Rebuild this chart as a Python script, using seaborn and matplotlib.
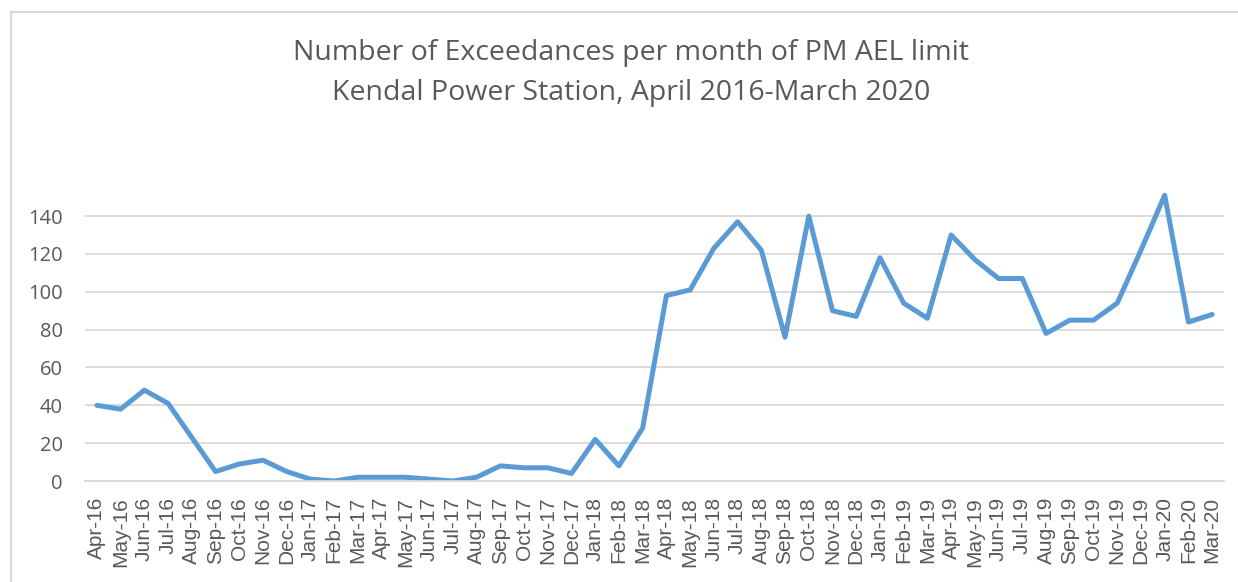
import numpy as np
import pandas as pd
import matplotlib
matplotlib.use("Agg")
import matplotlib.pyplot as plt
import seaborn as sns
from matplotlib.lines import Line2D

# monthly exceedances, Apr-16 .. Mar-20
months = ["Apr-16", "May-16", "Jun-16", "Jul-16", "Aug-16", "Sep-16", "Oct-16", "Nov-16",
          "Dec-16", "Jan-17", "Feb-17", "Mar-17", "Apr-17", "May-17", "Jun-17", "Jul-17",
          "Aug-17", "Sep-17", "Oct-17", "Nov-17", "Dec-17", "Jan-18", "Feb-18", "Mar-18",
          "Apr-18", "May-18", "Jun-18", "Jul-18", "Aug-18", "Sep-18", "Oct-18", "Nov-18",
          "Dec-18", "Jan-19", "Feb-19", "Mar-19", "Apr-19", "May-19", "Jun-19", "Jul-19",
          "Aug-19", "Sep-19", "Oct-19", "Nov-19", "Dec-19", "Jan-20", "Feb-20", "Mar-20"]
exceedances = [40, 38, 48, 41, 23, 5, 9, 11,
               5, 1, 0, 2, 2, 2, 1, 0,
               2, 8, 7, 7, 4, 22, 8, 28,
               98, 101, 123, 137, 122, 76, 140, 90,
               87, 118, 94, 86, 130, 117, 107, 107,
               78, 85, 85, 94, 122, 151, 84, 88]
y_ticks = [0, 20, 40, 60, 80, 100, 120, 140]

df = pd.DataFrame({"idx": np.arange(len(months)), "month": months, "count": exceedances})

sns.set_style("white")
plt.rcParams["font.family"] = ["Open Sans", "DejaVu Sans"]

grey = "#595959"
light = "#D9D9D9"
fig = plt.figure(figsize=(12.38, 5.82), dpi=100)
ax = fig.add_axes([0.0687, 0.1735, 0.920, 0.504])

# chart border (only top and left visible in the crop)
fig.lines.append(Line2D([11 / 1238, 1.0], [1 - 12 / 582, 1 - 12 / 582], transform=fig.transFigure,
                        color=light, linewidth=1.5))
fig.lines.append(Line2D([11 / 1238, 11 / 1238], [0.0, 1 - 12 / 582], transform=fig.transFigure,
                        color=light, linewidth=1.5))

sns.lineplot(data=df, x="idx", y="count", ax=ax, color="#5B9BD5", linewidth=3.6,
             solid_joinstyle="round", solid_capstyle="round")

ax.set_xlim(-0.5, len(months) - 0.5)
ax.set_ylim(0, 155)
ax.set_yticks(y_ticks)
ax.set_xticks(df["idx"])
ax.set_xticklabels(months, rotation=90, family=["Liberation Sans", "DejaVu Sans"])
ax.set_xticks(np.arange(len(months) + 1) - 0.5, minor=True)
ax.tick_params(axis="x", which="major", length=0, pad=11.5, labelsize=15, labelcolor=grey)
ax.tick_params(axis="x", which="minor", length=5, color=light, width=1.2)
ax.tick_params(axis="y", length=0, pad=16, labelsize=14.5, labelcolor=grey)
ax.yaxis.grid(True, color=light, linewidth=1.3)
ax.set_axisbelow(True)
for s in ["top", "right", "left"]:
    ax.spines[s].set_visible(False)
ax.spines["bottom"].set_color(light)
ax.spines["bottom"].set_linewidth(1.3)
ax.set_xlabel("")
ax.set_ylabel("")

fig.text(0.51, 1 - 73 / 582,
         "Number of Exceedances per month of PM AEL limit\nKendal Power Station, April 2016-March 2020",
         ha="center", va="center", fontsize=20.5, color=grey, linespacing=1.58)

fig.savefig("out.png", dpi=100)
